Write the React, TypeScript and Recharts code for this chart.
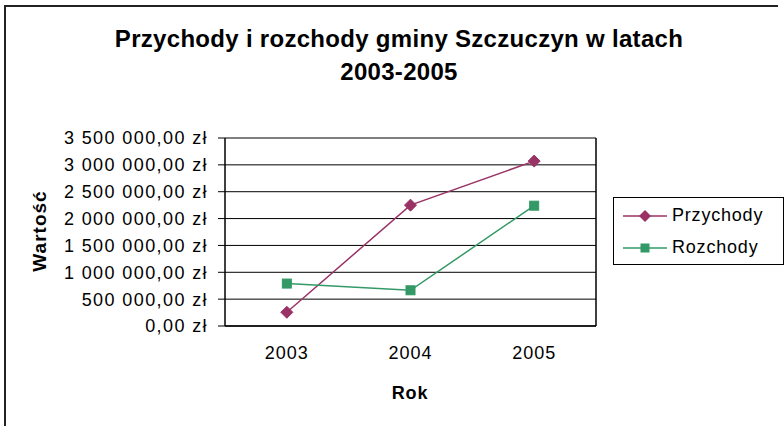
import React from 'react';
import { LineChart, Line, XAxis, YAxis, CartesianGrid } from 'recharts';

const years = ['2003', '2004', '2005'];
const przychody = [255000, 2250000, 3070000];
const rozchody = [790000, 665000, 2240000];
const yTicks = [0, 500000, 1000000, 1500000, 2000000, 2500000, 3000000, 3500000];
const yearCenters = [0.5, 1.5, 2.5];
const bandEdges = [0, 1, 2, 3];

const data = years.map((rok, i) => ({
	rok,
	idx: yearCenters[i],
	Przychody: przychody[i],
	Rozchody: rozchody[i],
}));

const PLUM = '#993366';
const GREEN = '#339966';
const FONT = '"Liberation Sans", Arial, sans-serif';

function formatZl(v: number) {
	const s = Math.round(v).toString().replace(/\B(?=(\d{3})+(?!\d))/g, ' ');
	return s + ',00 zł';
}

const Diamond = (props: any) => {
	const { cx, cy } = props;
	if (cx == null || cy == null) return null;
	const r = 6;
	return <polygon points={`${cx},${cy - r} ${cx + r},${cy} ${cx},${cy + r} ${cx - r},${cy}`} fill={PLUM} stroke={PLUM} />;
};

const Square = (props: any) => {
	const { cx, cy } = props;
	if (cx == null || cy == null) return null;
	return <rect x={cx - 4.5} y={cy - 4.5} width={9} height={9} fill={GREEN} stroke={GREEN} />;
};

const legendItems = [
	{ name: 'Przychody', color: PLUM, shape: 'diamond' },
	{ name: 'Rozchody', color: GREEN, shape: 'square' },
];

const LegendBox = () => (
	<div style={{ position: 'absolute', left: 613, top: 197, border: '1px solid #000', width: 171, height: 68, boxSizing: 'border-box', fontFamily: FONT, fontSize: 18, background: '#fff' }}>
		{legendItems.map((it, i) => (
			<div key={it.name} style={{ display: 'flex', alignItems: 'center', height: 33, marginTop: i === 0 ? 1 : -1 }}>
				<svg width={56} height={20} style={{ marginLeft: 2 }}>
					<line x1={7} y1={10} x2={51} y2={10} stroke={it.color} strokeWidth={1.5} />
					{it.shape === 'diamond' ? (
						<polygon points="29,4 35,10 29,16 23,10" fill={it.color} />
					) : (
						<rect x={24.5} y={5.5} width={9} height={9} fill={it.color} />
					)}
				</svg>
				<span style={{ letterSpacing: 0.8 }}>{it.name}</span>
			</div>
		))}
	</div>
);

export default function App() {
	return (
		<div style={{ position: 'absolute', left: 0, top: 0, width: 784, height: 426, background: '#fff', overflow: 'hidden' }}>
			<div style={{ position: 'absolute', left: 4, top: 5, width: 772, height: 430, borderTop: '2px solid #222', borderLeft: '2px solid #222' }} />
			<div style={{ position: 'absolute', left: 0, top: 22, width: 798, textAlign: 'center', fontFamily: FONT, fontWeight: 'bold', fontSize: 24, lineHeight: '33px', letterSpacing: 0.3 }}>
				Przychody i rozchody gminy Szczuczyn w latach
				<br />
				2003-2005
			</div>
			<div style={{ position: 'absolute', left: 40, top: 231, transform: 'translate(-50%, -50%) rotate(-90deg)', fontFamily: FONT, fontWeight: 'bold', fontSize: 19, letterSpacing: 1, whiteSpace: 'nowrap' }}>
				Wartość
			</div>
			<div style={{ position: 'absolute', left: 410, top: 393, transform: 'translate(-50%, -50%)', fontFamily: FONT, fontWeight: 'bold', fontSize: 18, letterSpacing: 0.8 }}>
				Rok
			</div>
			<div style={{ position: 'absolute', left: 0, top: 0 }}>
				<LineChart width={784} height={426} data={data} margin={{ top: 138, right: 187, bottom: 70, left: 0 }}>
					<CartesianGrid vertical={false} stroke="#000" strokeWidth={1} />
					{/* first bottom axis: axis line + tick marks on the category boundaries */}
					<XAxis
						type="number"
						dataKey="idx"
						domain={[0, 3]}
						ticks={bandEdges}
						tick={false}
						height={1}
						axisLine={{ stroke: '#000', strokeWidth: 1.5 }}
						tickLine={{ stroke: '#000' }}
						tickSize={6}
						interval={0}
					/>
					{/* second bottom axis: year labels in the middle of each band */}
					<XAxis
						xAxisId="labels"
						type="number"
						dataKey="idx"
						domain={[0, 3]}
						ticks={yearCenters}
						tickFormatter={(v: number) => years[Math.floor(v)]}
						height={29}
						axisLine={false}
						tickLine={false}
						tickSize={0}
						tickMargin={19}
						tick={{ fill: '#000', fontFamily: FONT, fontSize: 18, letterSpacing: 1 }}
						interval={0}
					/>
					<YAxis
						width={225}
						domain={[0, 3500000]}
						ticks={yTicks}
						tickFormatter={formatZl}
						tickSize={7}
						tickMargin={10}
						axisLine={{ stroke: '#000', strokeWidth: 1.5 }}
						tickLine={{ stroke: '#000' }}
						tick={{ fill: '#000', fontFamily: FONT, fontSize: 18, letterSpacing: 1.4 }}
						interval={0}
					/>
					<YAxis
						yAxisId="right"
						orientation="right"
						width={1}
						domain={[0, 3500000]}
						ticks={yTicks}
						tick={false}
						tickLine={false}
						axisLine={{ stroke: '#000', strokeWidth: 1.5 }}
					/>
					<Line
						type="linear"
						dataKey="Przychody"
						stroke={PLUM}
						strokeWidth={1.5}
						dot={<Diamond />}
						activeDot={false}
						isAnimationActive={false}
					/>
					<Line
						type="linear"
						dataKey="Rozchody"
						xAxisId="labels"
						yAxisId="right"
						stroke={GREEN}
						strokeWidth={1.5}
						dot={<Square />}
						activeDot={false}
						isAnimationActive={false}
					/>
				</LineChart>
			</div>
			<LegendBox />
		</div>
	);
}
